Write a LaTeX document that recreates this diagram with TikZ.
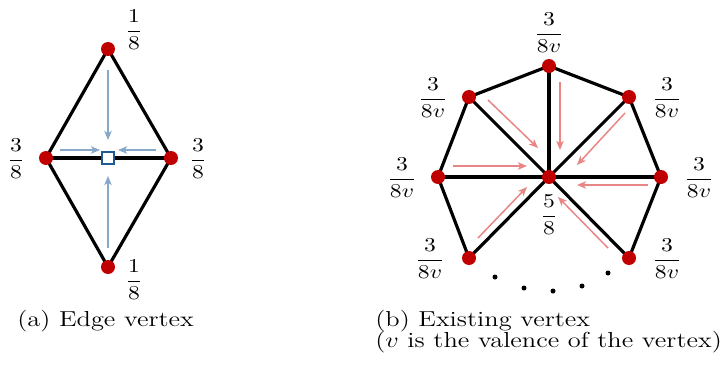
\documentclass[tikz,border=0pt]{standalone}
\usepackage{amsmath}
\usepackage{fix-cm}
\usepackage{graphicx}
\usetikzlibrary{arrows.meta}
\definecolor{dotred}{HTML}{C00000}
\definecolor{arrblue}{HTML}{88A8CA}
\definecolor{sqblue}{HTML}{1F5A96}
\definecolor{arrred}{HTML}{E88585}
\newcommand{\capt}[1]{\scalebox{1.22}[1]{\fontsize{13}{16}\selectfont #1}}
\newcommand{\frc}[2]{\scalebox{1.2}[1]{$\dfrac{#1}{#2}$}}
\tikzset{
  edge/.style={line width=1.9pt, black},
  vtx/.style={circle, fill=dotred, inner sep=0pt, minimum size=8.4pt},
  barw/.style={line width=0.9pt, arrblue, -{Stealth[length=5.5pt,width=4.5pt,inset=1.5pt]}},
  rarw/.style={line width=0.9pt, arrred, -{Stealth[length=5.5pt,width=4.5pt,inset=1.5pt]}},
  lbl/.style={inner sep=0pt, font=\fontsize{11.8}{14}\selectfont},
  capn/.style={anchor=base west, inner sep=0pt},
  dotc/.style={circle, fill=black, inner sep=0pt, minimum size=3pt},
}
\begin{document}
\begin{tikzpicture}[x=0.6pt, y=-0.6pt]
\useasboundingbox (0,0) rectangle (721,367);
% ---------- (a) ----------
\coordinate (T) at (108,49);
\coordinate (L) at (46,158);
\coordinate (R) at (171,158);
\coordinate (B) at (108,267);
\draw[edge, line join=round] (T) -- (L) -- (B) -- (R) -- cycle;
\draw[edge] (L) -- (R);
\node[vtx] (vT) at (T) {};
\node[vtx] (vL) at (L) {};
\node[vtx] (vR) at (R) {};
\node[vtx] (vB) at (B) {};
\node[draw=sqblue, fill=white, line width=1.2pt, minimum size=7pt, inner sep=0pt] (sq) at (108,158) {};
\coordinate (a1s) at (108,70);  \coordinate (a1e) at (108,140);
\coordinate (a2s) at (108,248); \coordinate (a2e) at (108,176);
\coordinate (a3s) at (60,150);  \coordinate (a3e) at (100,150);
\coordinate (a4s) at (156,150); \coordinate (a4e) at (118,150);
\draw[barw] (a1s) -- (a1e);
\draw[barw] (a2s) -- (a2e);
\draw[barw] (a3s) -- (a3e);
\draw[barw] (a4s) -- (a4e);
\node[lbl] (lT) at (134,30) {\frc{1}{8}};
\node[lbl] (lB) at (134,280) {\frc{1}{8}};
\node[lbl] (lL) at (16,159) {\frc{3}{8}};
\node[lbl] (lR) at (198,159) {\frc{3}{8}};
\node[capn] (capa) at (17,326) {\capt{(a) Edge vertex}};
% ---------- (b) ----------
\coordinate (C) at (549,177);
\coordinate (P1) at (549,66);
\coordinate (P2) at (629,97);
\coordinate (P3) at (661,177);
\coordinate (P4) at (629,258);
\coordinate (P5) at (469,258);
\coordinate (P6) at (438,177);
\coordinate (P7) at (469,97);
\draw[edge, line join=round] (P4) -- (P3) -- (P2) -- (P1) -- (P7) -- (P6) -- (P5);
\foreach \p in {P1,P2,P3,P4,P5,P6,P7} \draw[edge] (C) -- (\p);
\foreach \p in {P1,P2,P3,P4,P5,P6,P7} \node[vtx] (v\p) at (\p) {};
\node[vtx] (vC) at (C) {};
\coordinate (b1s) at (488,100); \coordinate (b1e) at (538,148);
\coordinate (b2s) at (560,82);  \coordinate (b2e) at (560,150);
\coordinate (b3s) at (625,113); \coordinate (b3e) at (577,165);
\coordinate (b4s) at (453,166); \coordinate (b4e) at (527,166);
\coordinate (b5s) at (648,185); \coordinate (b5e) at (577,185);
\coordinate (b6s) at (478,238); \coordinate (b6e) at (527,187);
\coordinate (b7s) at (608,248); \coordinate (b7e) at (558,197);
\foreach \i in {1,...,7} \draw[rarw] (b\i s) -- (b\i e);
\node[lbl] (m1) at (549,33) {\frc{3}{8v}};
\node[lbl] (m7) at (433,98) {\frc{3}{8v}};
\node[lbl] (m2) at (667,98) {\frc{3}{8v}};
\node[lbl] (m6) at (402,178) {\frc{3}{8v}};
\node[lbl] (m3) at (699,178) {\frc{3}{8v}};
\node[lbl] (m5) at (430,259) {\frc{3}{8v}};
\node[lbl] (m4) at (667,259) {\frc{3}{8v}};
\node[lbl] (mC) at (549,215) {\frc{5}{8}};
\node[dotc] (d1) at (495,277) {};
\node[dotc] (d2) at (524,288) {};
\node[dotc] (d3) at (553,291) {};
\node[dotc] (d4) at (582,286) {};
\node[dotc] (d5) at (608,273) {};
\node[capn] (capb) at (375,326) {\capt{(b) Existing vertex}};
\node[capn] (capb2) at (375,347) {\capt{($v$ is the valence of the vertex)}};
\end{tikzpicture}
\end{document}
